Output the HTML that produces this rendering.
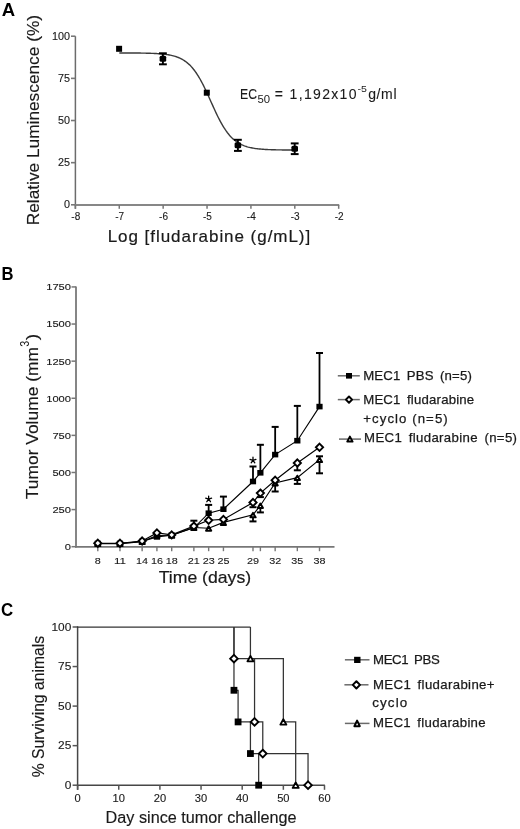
<!DOCTYPE html>
<html><head><meta charset="utf-8"><style>
html,body{margin:0;padding:0;background:#fff;}
svg{display:block;filter:grayscale(1);}
text{font-family:"Liberation Sans",sans-serif;}
</style></head><body>
<svg width="520" height="829" viewBox="0 0 520 829">
<rect width="520" height="829" fill="#fff"/>
<text x="1.7" y="15.5" font-size="19" textLength="13.4" lengthAdjust="spacingAndGlyphs" font-weight="bold" fill="#000">A</text>
<line x1="75.40" y1="36.20" x2="75.40" y2="208.80" stroke="#6c6c6c" stroke-width="1.5"/>
<line x1="74.70" y1="205.00" x2="339.20" y2="205.00" stroke="#878787" stroke-width="2.0"/>
<line x1="71.00" y1="36.22" x2="75.40" y2="36.22" stroke="#777" stroke-width="1.6"/>
<text x="69.9" y="39.82" font-size="10" text-anchor="end" textLength="18.0" lengthAdjust="spacingAndGlyphs" fill="#1a1a1a" stroke="#1a1a1a" stroke-width="0.12">100</text>
<line x1="71.00" y1="78.37" x2="75.40" y2="78.37" stroke="#777" stroke-width="1.6"/>
<text x="69.9" y="81.97" font-size="10" text-anchor="end" textLength="12.0" lengthAdjust="spacingAndGlyphs" fill="#1a1a1a" stroke="#1a1a1a" stroke-width="0.12">75</text>
<line x1="71.00" y1="120.51" x2="75.40" y2="120.51" stroke="#777" stroke-width="1.6"/>
<text x="69.9" y="124.11" font-size="10" text-anchor="end" textLength="12.0" lengthAdjust="spacingAndGlyphs" fill="#1a1a1a" stroke="#1a1a1a" stroke-width="0.12">50</text>
<line x1="71.00" y1="162.66" x2="75.40" y2="162.66" stroke="#777" stroke-width="1.6"/>
<text x="69.9" y="166.26" font-size="10" text-anchor="end" textLength="12.0" lengthAdjust="spacingAndGlyphs" fill="#1a1a1a" stroke="#1a1a1a" stroke-width="0.12">25</text>
<line x1="71.00" y1="204.80" x2="75.40" y2="204.80" stroke="#777" stroke-width="1.6"/>
<text x="69.9" y="208.4" font-size="10" text-anchor="end" textLength="6.0" lengthAdjust="spacingAndGlyphs" fill="#1a1a1a" stroke="#1a1a1a" stroke-width="0.12">0</text>
<line x1="75.40" y1="205.00" x2="75.40" y2="208.80" stroke="#777" stroke-width="1.5"/>
<text x="75.8" y="219.9" font-size="10" text-anchor="middle" fill="#1a1a1a" stroke="#1a1a1a" stroke-width="0.12">-8</text>
<line x1="119.28" y1="205.00" x2="119.28" y2="208.80" stroke="#777" stroke-width="1.5"/>
<text x="119.68" y="219.9" font-size="10" text-anchor="middle" fill="#1a1a1a" stroke="#1a1a1a" stroke-width="0.12">-7</text>
<line x1="163.16" y1="205.00" x2="163.16" y2="208.80" stroke="#777" stroke-width="1.5"/>
<text x="163.56" y="219.9" font-size="10" text-anchor="middle" fill="#1a1a1a" stroke="#1a1a1a" stroke-width="0.12">-6</text>
<line x1="207.04" y1="205.00" x2="207.04" y2="208.80" stroke="#777" stroke-width="1.5"/>
<text x="207.44" y="219.9" font-size="10" text-anchor="middle" fill="#1a1a1a" stroke="#1a1a1a" stroke-width="0.12">-5</text>
<line x1="250.92" y1="205.00" x2="250.92" y2="208.80" stroke="#777" stroke-width="1.5"/>
<text x="251.32" y="219.9" font-size="10" text-anchor="middle" fill="#1a1a1a" stroke="#1a1a1a" stroke-width="0.12">-4</text>
<line x1="294.80" y1="205.00" x2="294.80" y2="208.80" stroke="#777" stroke-width="1.5"/>
<text x="295.2" y="219.9" font-size="10" text-anchor="middle" fill="#1a1a1a" stroke="#1a1a1a" stroke-width="0.12">-3</text>
<line x1="338.68" y1="205.00" x2="338.68" y2="208.80" stroke="#777" stroke-width="1.5"/>
<text x="339.08" y="219.9" font-size="10" text-anchor="middle" fill="#1a1a1a" stroke="#1a1a1a" stroke-width="0.12">-2</text>
<text x="107.7" y="242.1" font-size="17" textLength="202.5" lengthAdjust="spacing" fill="#1a1a1a" stroke="#1a1a1a" stroke-width="0.2">Log [fludarabine (g/mL)]</text>
<text x="38.8" y="225.2" font-size="17" textLength="210.2" lengthAdjust="spacingAndGlyphs" transform="rotate(-90 38.8 225.2)" fill="#1a1a1a" stroke="#1a1a1a" stroke-width="0.15">Relative Luminescence (%)</text>
<polyline points="119.30,52.95 120.30,52.95 121.30,52.96 122.30,52.96 123.30,52.96 124.30,52.96 125.30,52.97 126.30,52.97 127.30,52.97 128.30,52.98 129.30,52.98 130.30,52.99 131.30,52.99 132.30,53.00 133.30,53.01 134.30,53.01 135.30,53.02 136.30,53.03 137.30,53.04 138.30,53.05 139.30,53.06 140.30,53.07 141.30,53.09 142.30,53.10 143.30,53.12 144.30,53.14 145.30,53.16 146.30,53.18 147.30,53.21 148.30,53.23 149.30,53.26 150.30,53.29 151.30,53.33 152.30,53.37 153.30,53.41 154.30,53.45 155.30,53.51 156.30,53.56 157.30,53.62 158.30,53.69 159.30,53.76 160.30,53.84 161.30,53.93 162.30,54.02 163.30,54.12 164.30,54.24 165.30,54.36 166.30,54.50 167.30,54.65 168.30,54.81 169.30,54.99 170.30,55.18 171.30,55.39 172.30,55.62 173.30,55.88 174.30,56.15 175.30,56.45 176.30,56.78 177.30,57.13 178.30,57.52 179.30,57.94 180.30,58.40 181.30,58.89 182.30,59.43 183.30,60.01 184.30,60.64 185.30,61.32 186.30,62.06 187.30,62.85 188.30,63.70 189.30,64.61 190.30,65.59 191.30,66.64 192.30,67.77 193.30,68.96 194.30,70.23 195.30,71.58 196.30,73.01 197.30,74.52 198.30,76.11 199.30,77.77 200.30,79.52 201.30,81.33 202.30,83.22 203.30,85.17 204.30,87.19 205.30,89.26 206.30,91.38 207.30,93.54 208.30,95.73 209.30,97.95 210.30,100.18 211.30,102.42 212.30,104.65 213.30,106.87 214.30,109.07 215.30,111.24 216.30,113.36 217.30,115.44 218.30,117.47 219.30,119.43 220.30,121.33 221.30,123.16 222.30,124.92 223.30,126.60 224.30,128.20 225.30,129.72 226.30,131.16 227.30,132.53 228.30,133.81 229.30,135.02 230.30,136.16 231.30,137.22 232.30,138.22 233.30,139.14 234.30,140.00 235.30,140.81 236.30,141.55 237.30,142.24 238.30,142.88 239.30,143.47 240.30,144.01 241.30,144.52 242.30,144.98 243.30,145.41 244.30,145.80 245.30,146.16 246.30,146.49 247.30,146.80 248.30,147.08 249.30,147.33 250.30,147.57 251.30,147.78 252.30,147.98 253.30,148.16 254.30,148.32 255.30,148.48 256.30,148.61 257.30,148.74 258.30,148.86 259.30,148.96 260.30,149.06 261.30,149.15 262.30,149.23 263.30,149.30 264.30,149.37 265.30,149.43 266.30,149.49 267.30,149.54 268.30,149.58 269.30,149.63 270.30,149.66 271.30,149.70 272.30,149.73 273.30,149.76 274.30,149.79 275.30,149.81 276.30,149.84 277.30,149.86 278.30,149.88 279.30,149.89 280.30,149.91 281.30,149.92 282.30,149.94 283.30,149.95 284.30,149.96 285.30,149.97 286.30,149.98 287.30,149.99 288.30,149.99 289.30,150.00 290.30,150.01 291.30,150.01 292.30,150.02" fill="none" stroke="#3a3a3a" stroke-width="1.4" stroke-linejoin="miter"/>
<rect x="116.10" y="45.80" width="6.0" height="6.0" fill="#000"/>
<line x1="162.90" y1="53.30" x2="162.90" y2="64.30" stroke="#000" stroke-width="1.9"/>
<line x1="159.00" y1="53.30" x2="166.80" y2="53.30" stroke="#000" stroke-width="2.0"/>
<line x1="159.00" y1="64.30" x2="166.80" y2="64.30" stroke="#000" stroke-width="2.0"/>
<rect x="159.60" y="55.80" width="6.6" height="6" rx="1.5" fill="#000"/>
<line x1="237.90" y1="139.80" x2="237.90" y2="150.90" stroke="#000" stroke-width="1.9"/>
<line x1="234.00" y1="139.80" x2="241.80" y2="139.80" stroke="#000" stroke-width="2.0"/>
<line x1="234.00" y1="150.90" x2="241.80" y2="150.90" stroke="#000" stroke-width="2.0"/>
<rect x="234.60" y="142.30" width="6.6" height="6" rx="1.5" fill="#000"/>
<line x1="294.70" y1="143.40" x2="294.70" y2="154.10" stroke="#000" stroke-width="1.9"/>
<line x1="290.80" y1="143.40" x2="298.60" y2="143.40" stroke="#000" stroke-width="2.0"/>
<line x1="290.80" y1="154.10" x2="298.60" y2="154.10" stroke="#000" stroke-width="2.0"/>
<rect x="291.40" y="145.70" width="6.6" height="6" rx="1.5" fill="#000"/>
<rect x="203.80" y="89.70" width="6.0" height="6.0" fill="#000"/>
<text x="240" y="98.9" font-size="14" textLength="17" lengthAdjust="spacingAndGlyphs" fill="#1a1a1a" stroke="#1a1a1a" stroke-width="0.1">EC</text>
<text x="257.4" y="102.5" font-size="10" textLength="12.6" lengthAdjust="spacingAndGlyphs" fill="#1a1a1a">50</text>
<text x="274.8" y="98.9" font-size="14" textLength="81.7" lengthAdjust="spacing" fill="#1a1a1a" stroke="#1a1a1a" stroke-width="0.1">= 1,192x10</text>
<text x="357.6" y="92.4" font-size="9.2" textLength="9.4" lengthAdjust="spacingAndGlyphs" fill="#1a1a1a">-5</text>
<text x="368.2" y="98.9" font-size="14" textLength="28.3" lengthAdjust="spacing" fill="#1a1a1a" stroke="#1a1a1a" stroke-width="0.1">g/ml</text>
<text x="1.6" y="279.7" font-size="18.5" textLength="12" lengthAdjust="spacingAndGlyphs" font-weight="bold" fill="#000">B</text>
<line x1="76.00" y1="286.40" x2="76.00" y2="547.50" stroke="#868686" stroke-width="2.0"/>
<line x1="75.00" y1="546.90" x2="334.50" y2="546.90" stroke="#777" stroke-width="1.7"/>
<line x1="71.50" y1="546.70" x2="76.00" y2="546.70" stroke="#777" stroke-width="1.5"/>
<text x="71.0" y="550.1" font-size="9.6" text-anchor="end" textLength="6.2" lengthAdjust="spacingAndGlyphs" fill="#1a1a1a" stroke="#1a1a1a" stroke-width="0.12">0</text>
<line x1="71.50" y1="509.59" x2="76.00" y2="509.59" stroke="#777" stroke-width="1.5"/>
<text x="71.0" y="512.99" font-size="9.6" text-anchor="end" textLength="18.6" lengthAdjust="spacingAndGlyphs" fill="#1a1a1a" stroke="#1a1a1a" stroke-width="0.12">250</text>
<line x1="71.50" y1="472.48" x2="76.00" y2="472.48" stroke="#777" stroke-width="1.5"/>
<text x="71.0" y="475.88" font-size="9.6" text-anchor="end" textLength="18.6" lengthAdjust="spacingAndGlyphs" fill="#1a1a1a" stroke="#1a1a1a" stroke-width="0.12">500</text>
<line x1="71.50" y1="435.37" x2="76.00" y2="435.37" stroke="#777" stroke-width="1.5"/>
<text x="71.0" y="438.77" font-size="9.6" text-anchor="end" textLength="18.6" lengthAdjust="spacingAndGlyphs" fill="#1a1a1a" stroke="#1a1a1a" stroke-width="0.12">750</text>
<line x1="71.50" y1="398.26" x2="76.00" y2="398.26" stroke="#777" stroke-width="1.5"/>
<text x="71.0" y="401.66" font-size="9.6" text-anchor="end" textLength="24.8" lengthAdjust="spacingAndGlyphs" fill="#1a1a1a" stroke="#1a1a1a" stroke-width="0.12">1000</text>
<line x1="71.50" y1="361.15" x2="76.00" y2="361.15" stroke="#777" stroke-width="1.5"/>
<text x="71.0" y="364.55" font-size="9.6" text-anchor="end" textLength="24.8" lengthAdjust="spacingAndGlyphs" fill="#1a1a1a" stroke="#1a1a1a" stroke-width="0.12">1250</text>
<line x1="71.50" y1="324.04" x2="76.00" y2="324.04" stroke="#777" stroke-width="1.5"/>
<text x="71.0" y="327.44" font-size="9.6" text-anchor="end" textLength="24.8" lengthAdjust="spacingAndGlyphs" fill="#1a1a1a" stroke="#1a1a1a" stroke-width="0.12">1500</text>
<line x1="71.50" y1="286.93" x2="76.00" y2="286.93" stroke="#777" stroke-width="1.5"/>
<text x="71.0" y="290.33" font-size="9.6" text-anchor="end" textLength="24.8" lengthAdjust="spacingAndGlyphs" fill="#1a1a1a" stroke="#1a1a1a" stroke-width="0.12">1750</text>
<line x1="97.80" y1="546.90" x2="97.80" y2="551.20" stroke="#777" stroke-width="1.4"/>
<text x="97.8" y="563.6" font-size="9.9" text-anchor="middle" textLength="6.0" lengthAdjust="spacingAndGlyphs" fill="#1a1a1a" stroke="#1a1a1a" stroke-width="0.12">8</text>
<line x1="119.97" y1="546.90" x2="119.97" y2="551.20" stroke="#777" stroke-width="1.4"/>
<text x="119.97" y="563.6" font-size="9.9" text-anchor="middle" textLength="12.0" lengthAdjust="spacingAndGlyphs" fill="#1a1a1a" stroke="#1a1a1a" stroke-width="0.12">11</text>
<line x1="142.14" y1="546.90" x2="142.14" y2="551.20" stroke="#777" stroke-width="1.4"/>
<text x="142.14" y="563.6" font-size="9.9" text-anchor="middle" textLength="12.0" lengthAdjust="spacingAndGlyphs" fill="#1a1a1a" stroke="#1a1a1a" stroke-width="0.12">14</text>
<line x1="156.92" y1="546.90" x2="156.92" y2="551.20" stroke="#777" stroke-width="1.4"/>
<text x="156.92" y="563.6" font-size="9.9" text-anchor="middle" textLength="12.0" lengthAdjust="spacingAndGlyphs" fill="#1a1a1a" stroke="#1a1a1a" stroke-width="0.12">16</text>
<line x1="171.70" y1="546.90" x2="171.70" y2="551.20" stroke="#777" stroke-width="1.4"/>
<text x="171.7" y="563.6" font-size="9.9" text-anchor="middle" textLength="12.0" lengthAdjust="spacingAndGlyphs" fill="#1a1a1a" stroke="#1a1a1a" stroke-width="0.12">18</text>
<line x1="193.87" y1="546.90" x2="193.87" y2="551.20" stroke="#777" stroke-width="1.4"/>
<text x="193.87" y="563.6" font-size="9.9" text-anchor="middle" textLength="12.0" lengthAdjust="spacingAndGlyphs" fill="#1a1a1a" stroke="#1a1a1a" stroke-width="0.12">21</text>
<line x1="208.65" y1="546.90" x2="208.65" y2="551.20" stroke="#777" stroke-width="1.4"/>
<text x="208.65" y="563.6" font-size="9.9" text-anchor="middle" textLength="12.0" lengthAdjust="spacingAndGlyphs" fill="#1a1a1a" stroke="#1a1a1a" stroke-width="0.12">23</text>
<line x1="223.43" y1="546.90" x2="223.43" y2="551.20" stroke="#777" stroke-width="1.4"/>
<text x="223.43" y="563.6" font-size="9.9" text-anchor="middle" textLength="12.0" lengthAdjust="spacingAndGlyphs" fill="#1a1a1a" stroke="#1a1a1a" stroke-width="0.12">25</text>
<line x1="252.99" y1="546.90" x2="252.99" y2="551.20" stroke="#777" stroke-width="1.4"/>
<text x="252.99" y="563.6" font-size="9.9" text-anchor="middle" textLength="12.0" lengthAdjust="spacingAndGlyphs" fill="#1a1a1a" stroke="#1a1a1a" stroke-width="0.12">29</text>
<line x1="260.38" y1="546.90" x2="260.38" y2="551.20" stroke="#777" stroke-width="1.4"/>
<line x1="275.16" y1="546.90" x2="275.16" y2="551.20" stroke="#777" stroke-width="1.4"/>
<text x="275.16" y="563.6" font-size="9.9" text-anchor="middle" textLength="12.0" lengthAdjust="spacingAndGlyphs" fill="#1a1a1a" stroke="#1a1a1a" stroke-width="0.12">32</text>
<line x1="297.33" y1="546.90" x2="297.33" y2="551.20" stroke="#777" stroke-width="1.4"/>
<text x="297.33" y="563.6" font-size="9.9" text-anchor="middle" textLength="12.0" lengthAdjust="spacingAndGlyphs" fill="#1a1a1a" stroke="#1a1a1a" stroke-width="0.12">35</text>
<line x1="319.50" y1="546.90" x2="319.50" y2="551.20" stroke="#777" stroke-width="1.4"/>
<text x="319.5" y="563.6" font-size="9.9" text-anchor="middle" textLength="12.0" lengthAdjust="spacingAndGlyphs" fill="#1a1a1a" stroke="#1a1a1a" stroke-width="0.12">38</text>
<text x="158.7" y="582.8" font-size="16.6" textLength="92.4" lengthAdjust="spacingAndGlyphs" fill="#1a1a1a" stroke="#1a1a1a" stroke-width="0.2">Time (days)</text>
<text x="37.9" y="499.2" font-size="17" textLength="152.2" lengthAdjust="spacingAndGlyphs" transform="rotate(-90 37.9 499.2)" fill="#1a1a1a" stroke="#1a1a1a" stroke-width="0.15">Tumor Volume (mm</text>
<text x="28.6" y="346.8" font-size="12" textLength="6.0" lengthAdjust="spacingAndGlyphs" transform="rotate(-90 28.6 346.8)" fill="#1a1a1a">3</text>
<text x="37.9" y="340.3" font-size="17" textLength="6.5" lengthAdjust="spacingAndGlyphs" transform="rotate(-90 37.9 340.3)" fill="#1a1a1a" stroke="#1a1a1a" stroke-width="0.15">)</text>
<line x1="193.87" y1="527.80" x2="193.87" y2="520.70" stroke="#000" stroke-width="1.8"/>
<line x1="190.37" y1="520.70" x2="197.37" y2="520.70" stroke="#000" stroke-width="2.0"/>
<line x1="208.65" y1="513.20" x2="208.65" y2="504.90" stroke="#000" stroke-width="1.8"/>
<line x1="205.15" y1="504.90" x2="212.15" y2="504.90" stroke="#000" stroke-width="2.0"/>
<line x1="223.43" y1="509.20" x2="223.43" y2="496.60" stroke="#000" stroke-width="1.8"/>
<line x1="219.93" y1="496.60" x2="226.93" y2="496.60" stroke="#000" stroke-width="2.0"/>
<line x1="252.99" y1="481.50" x2="252.99" y2="466.50" stroke="#000" stroke-width="1.8"/>
<line x1="249.49" y1="466.50" x2="256.49" y2="466.50" stroke="#000" stroke-width="2.0"/>
<line x1="260.38" y1="472.80" x2="260.38" y2="444.80" stroke="#000" stroke-width="1.8"/>
<line x1="256.88" y1="444.80" x2="263.88" y2="444.80" stroke="#000" stroke-width="2.0"/>
<line x1="275.16" y1="454.60" x2="275.16" y2="426.90" stroke="#000" stroke-width="1.8"/>
<line x1="271.66" y1="426.90" x2="278.66" y2="426.90" stroke="#000" stroke-width="2.0"/>
<line x1="297.33" y1="440.70" x2="297.33" y2="405.90" stroke="#000" stroke-width="1.8"/>
<line x1="293.83" y1="405.90" x2="300.83" y2="405.90" stroke="#000" stroke-width="2.0"/>
<line x1="319.50" y1="406.60" x2="319.50" y2="353.00" stroke="#000" stroke-width="1.8"/>
<line x1="316.00" y1="353.00" x2="323.00" y2="353.00" stroke="#000" stroke-width="2.0"/>
<line x1="252.99" y1="502.50" x2="252.99" y2="507.20" stroke="#000" stroke-width="1.8"/>
<line x1="249.49" y1="507.20" x2="256.49" y2="507.20" stroke="#000" stroke-width="2.0"/>
<line x1="260.38" y1="493.10" x2="260.38" y2="497.10" stroke="#000" stroke-width="1.8"/>
<line x1="256.88" y1="497.10" x2="263.88" y2="497.10" stroke="#000" stroke-width="2.0"/>
<line x1="297.33" y1="463.00" x2="297.33" y2="470.30" stroke="#000" stroke-width="1.8"/>
<line x1="293.83" y1="470.30" x2="300.83" y2="470.30" stroke="#000" stroke-width="2.0"/>
<line x1="252.99" y1="514.80" x2="252.99" y2="521.40" stroke="#000" stroke-width="1.8"/>
<line x1="249.49" y1="521.40" x2="256.49" y2="521.40" stroke="#000" stroke-width="2.0"/>
<line x1="260.38" y1="505.50" x2="260.38" y2="512.40" stroke="#000" stroke-width="1.8"/>
<line x1="256.88" y1="512.40" x2="263.88" y2="512.40" stroke="#000" stroke-width="2.0"/>
<line x1="275.16" y1="483.00" x2="275.16" y2="491.50" stroke="#000" stroke-width="1.8"/>
<line x1="271.66" y1="491.50" x2="278.66" y2="491.50" stroke="#000" stroke-width="2.0"/>
<line x1="297.33" y1="477.60" x2="297.33" y2="483.90" stroke="#000" stroke-width="1.8"/>
<line x1="293.83" y1="483.90" x2="300.83" y2="483.90" stroke="#000" stroke-width="2.0"/>
<line x1="319.50" y1="459.60" x2="319.50" y2="473.30" stroke="#000" stroke-width="1.8"/>
<line x1="316.00" y1="473.30" x2="323.00" y2="473.30" stroke="#000" stroke-width="2.0"/>
<line x1="319.50" y1="459.60" x2="319.50" y2="456.30" stroke="#000" stroke-width="1.8"/>
<line x1="316.00" y1="456.30" x2="323.00" y2="456.30" stroke="#000" stroke-width="2.0"/>
<polyline points="97.80,543.60 119.97,543.60 142.14,541.60 156.92,535.50 171.70,535.30 193.87,527.50 208.65,528.20 223.43,522.40 252.99,514.80 260.38,505.50 275.16,483.00 297.33,477.60 319.50,459.60" fill="none" stroke="#000" stroke-width="1.15" stroke-linejoin="miter"/>
<polyline points="97.80,543.50 119.97,543.50 142.14,541.50 156.92,536.90 171.70,535.20 193.87,527.80 208.65,513.20 223.43,509.20 252.99,481.50 260.38,472.80 275.16,454.60 297.33,440.70 319.50,406.60" fill="none" stroke="#000" stroke-width="1.15" stroke-linejoin="miter"/>
<polyline points="97.80,543.20 119.97,543.20 142.14,541.00 156.92,532.90 171.70,534.90 193.87,526.10 208.65,520.30 223.43,519.40 252.99,502.50 260.38,493.10 275.16,480.20 297.33,463.00 319.50,447.30" fill="none" stroke="#000" stroke-width="1.15" stroke-linejoin="miter"/>
<path d="M97.80 541.70L100.40 546.10L95.20 546.10Z" fill="#fff" stroke="#000" stroke-width="2.0" stroke-linejoin="round"/>
<path d="M119.97 541.70L122.57 546.10L117.37 546.10Z" fill="#fff" stroke="#000" stroke-width="2.0" stroke-linejoin="round"/>
<path d="M142.14 539.70L144.74 544.10L139.54 544.10Z" fill="#fff" stroke="#000" stroke-width="2.0" stroke-linejoin="round"/>
<path d="M156.92 533.60L159.52 538.00L154.32 538.00Z" fill="#fff" stroke="#000" stroke-width="2.0" stroke-linejoin="round"/>
<path d="M171.70 533.40L174.30 537.80L169.10 537.80Z" fill="#fff" stroke="#000" stroke-width="2.0" stroke-linejoin="round"/>
<path d="M193.87 525.60L196.47 530.00L191.27 530.00Z" fill="#fff" stroke="#000" stroke-width="2.0" stroke-linejoin="round"/>
<path d="M208.65 526.30L211.25 530.70L206.05 530.70Z" fill="#fff" stroke="#000" stroke-width="2.0" stroke-linejoin="round"/>
<path d="M223.43 520.50L226.03 524.90L220.83 524.90Z" fill="#fff" stroke="#000" stroke-width="2.0" stroke-linejoin="round"/>
<path d="M252.99 512.90L255.59 517.30L250.39 517.30Z" fill="#fff" stroke="#000" stroke-width="2.0" stroke-linejoin="round"/>
<path d="M260.38 503.60L262.98 508.00L257.78 508.00Z" fill="#fff" stroke="#000" stroke-width="2.0" stroke-linejoin="round"/>
<path d="M275.16 481.10L277.76 485.50L272.56 485.50Z" fill="#fff" stroke="#000" stroke-width="2.0" stroke-linejoin="round"/>
<path d="M297.33 475.70L299.93 480.10L294.73 480.10Z" fill="#fff" stroke="#000" stroke-width="2.0" stroke-linejoin="round"/>
<path d="M319.50 457.70L322.10 462.10L316.90 462.10Z" fill="#fff" stroke="#000" stroke-width="2.0" stroke-linejoin="round"/>
<rect x="94.70" y="540.70" width="6.2" height="5.6" fill="#000"/>
<rect x="116.87" y="540.70" width="6.2" height="5.6" fill="#000"/>
<rect x="139.04" y="538.70" width="6.2" height="5.6" fill="#000"/>
<rect x="153.82" y="534.10" width="6.2" height="5.6" fill="#000"/>
<rect x="168.60" y="532.40" width="6.2" height="5.6" fill="#000"/>
<rect x="190.77" y="525.00" width="6.2" height="5.6" fill="#000"/>
<rect x="205.55" y="510.40" width="6.2" height="5.6" fill="#000"/>
<rect x="220.33" y="506.40" width="6.2" height="5.6" fill="#000"/>
<rect x="249.89" y="478.70" width="6.2" height="5.6" fill="#000"/>
<rect x="257.28" y="470.00" width="6.2" height="5.6" fill="#000"/>
<rect x="272.06" y="451.80" width="6.2" height="5.6" fill="#000"/>
<rect x="294.23" y="437.90" width="6.2" height="5.6" fill="#000"/>
<rect x="316.40" y="403.80" width="6.2" height="5.6" fill="#000"/>
<path d="M97.80 539.60L101.40 543.20L97.80 546.80L94.20 543.20Z" fill="#fff" stroke="#000" stroke-width="1.9" stroke-linejoin="miter"/>
<path d="M119.97 539.60L123.57 543.20L119.97 546.80L116.37 543.20Z" fill="#fff" stroke="#000" stroke-width="1.9" stroke-linejoin="miter"/>
<path d="M142.14 537.40L145.74 541.00L142.14 544.60L138.54 541.00Z" fill="#fff" stroke="#000" stroke-width="1.9" stroke-linejoin="miter"/>
<path d="M156.92 529.30L160.52 532.90L156.92 536.50L153.32 532.90Z" fill="#fff" stroke="#000" stroke-width="1.9" stroke-linejoin="miter"/>
<path d="M171.70 531.30L175.30 534.90L171.70 538.50L168.10 534.90Z" fill="#fff" stroke="#000" stroke-width="1.9" stroke-linejoin="miter"/>
<path d="M193.87 522.50L197.47 526.10L193.87 529.70L190.27 526.10Z" fill="#fff" stroke="#000" stroke-width="1.9" stroke-linejoin="miter"/>
<path d="M208.65 516.70L212.25 520.30L208.65 523.90L205.05 520.30Z" fill="#fff" stroke="#000" stroke-width="1.9" stroke-linejoin="miter"/>
<path d="M223.43 515.80L227.03 519.40L223.43 523.00L219.83 519.40Z" fill="#fff" stroke="#000" stroke-width="1.9" stroke-linejoin="miter"/>
<path d="M252.99 498.90L256.59 502.50L252.99 506.10L249.39 502.50Z" fill="#fff" stroke="#000" stroke-width="1.9" stroke-linejoin="miter"/>
<path d="M260.38 489.50L263.98 493.10L260.38 496.70L256.78 493.10Z" fill="#fff" stroke="#000" stroke-width="1.9" stroke-linejoin="miter"/>
<path d="M275.16 476.60L278.76 480.20L275.16 483.80L271.56 480.20Z" fill="#fff" stroke="#000" stroke-width="1.9" stroke-linejoin="miter"/>
<path d="M297.33 459.40L300.93 463.00L297.33 466.60L293.73 463.00Z" fill="#fff" stroke="#000" stroke-width="1.9" stroke-linejoin="miter"/>
<path d="M319.50 443.70L323.10 447.30L319.50 450.90L315.90 447.30Z" fill="#fff" stroke="#000" stroke-width="1.9" stroke-linejoin="miter"/>
<path d="M208.65 499.20L208.65 496.10M208.65 499.20L211.60 498.24M208.65 499.20L210.47 501.71M208.65 499.20L206.83 501.71M208.65 499.20L205.70 498.24" stroke="#000" stroke-width="1.3" stroke-linecap="round" fill="none"/>
<path d="M252.99 460.30L252.99 457.20M252.99 460.30L255.94 459.34M252.99 460.30L254.81 462.81M252.99 460.30L251.17 462.81M252.99 460.30L250.04 459.34" stroke="#000" stroke-width="1.3" stroke-linecap="round" fill="none"/>
<line x1="337.80" y1="375.80" x2="359.80" y2="375.80" stroke="#6a6a6a" stroke-width="1.5"/>
<rect x="346" y="373" width="6" height="5.6" fill="#000"/>
<text x="363.2" y="379.6" font-size="13.2" textLength="108.6" lengthAdjust="spacing" fill="#1a1a1a" word-spacing="2.5" stroke="#1a1a1a" stroke-width="0.25">MEC1 PBS (n=5)</text>
<line x1="337.80" y1="399.60" x2="359.80" y2="399.60" stroke="#6a6a6a" stroke-width="1.5"/>
<path d="M349.00 396.50L352.10 399.60L349.00 402.70L345.90 399.60Z" fill="#fff" stroke="#000" stroke-width="2.0" stroke-linejoin="round"/>
<text x="363.2" y="403.5" font-size="13.2" textLength="111.0" lengthAdjust="spacing" fill="#1a1a1a" word-spacing="2.5" stroke="#1a1a1a" stroke-width="0.25">MEC1 fludarabine</text>
<text x="363.3" y="422.8" font-size="13.2" textLength="84.4" lengthAdjust="spacing" fill="#1a1a1a" stroke="#1a1a1a" stroke-width="0.25">+cyclo (n=5)</text>
<line x1="339.00" y1="439.10" x2="361.00" y2="439.10" stroke="#6a6a6a" stroke-width="1.5"/>
<path d="M349.90 436.60L352.55 441.60L347.25 441.60Z" fill="#fff" stroke="#000" stroke-width="2.0" stroke-linejoin="round"/>
<text x="364.1" y="442.4" font-size="13.2" textLength="152.9" lengthAdjust="spacing" fill="#1a1a1a" word-spacing="2.5" stroke="#1a1a1a" stroke-width="0.25">MEC1 fludarabine (n=5)</text>
<text x="1.0" y="616.4" font-size="18.5" textLength="12.2" lengthAdjust="spacingAndGlyphs" font-weight="bold" fill="#000">C</text>
<line x1="77.60" y1="626.40" x2="77.60" y2="789.80" stroke="#474747" stroke-width="1.5"/>
<line x1="76.90" y1="785.20" x2="324.90" y2="785.20" stroke="#474747" stroke-width="1.6"/>
<line x1="72.60" y1="627.00" x2="77.60" y2="627.00" stroke="#555" stroke-width="1.5"/>
<text x="71.3" y="630.6" font-size="10.5" text-anchor="end" textLength="19.8" lengthAdjust="spacingAndGlyphs" fill="#1a1a1a" stroke="#1a1a1a" stroke-width="0.12">100</text>
<line x1="72.60" y1="666.55" x2="77.60" y2="666.55" stroke="#555" stroke-width="1.5"/>
<text x="71.3" y="670.15" font-size="10.5" text-anchor="end" textLength="13.2" lengthAdjust="spacingAndGlyphs" fill="#1a1a1a" stroke="#1a1a1a" stroke-width="0.12">75</text>
<line x1="72.60" y1="706.10" x2="77.60" y2="706.10" stroke="#555" stroke-width="1.5"/>
<text x="71.3" y="709.7" font-size="10.5" text-anchor="end" textLength="13.2" lengthAdjust="spacingAndGlyphs" fill="#1a1a1a" stroke="#1a1a1a" stroke-width="0.12">50</text>
<line x1="72.60" y1="745.65" x2="77.60" y2="745.65" stroke="#555" stroke-width="1.5"/>
<text x="71.3" y="749.25" font-size="10.5" text-anchor="end" textLength="13.2" lengthAdjust="spacingAndGlyphs" fill="#1a1a1a" stroke="#1a1a1a" stroke-width="0.12">25</text>
<line x1="72.60" y1="785.20" x2="77.60" y2="785.20" stroke="#555" stroke-width="1.5"/>
<text x="71.3" y="788.8" font-size="10.5" text-anchor="end" textLength="6.6" lengthAdjust="spacingAndGlyphs" fill="#1a1a1a" stroke="#1a1a1a" stroke-width="0.12">0</text>
<line x1="77.60" y1="785.20" x2="77.60" y2="789.80" stroke="#555" stroke-width="1.5"/>
<text x="77.6" y="801.8" font-size="10.5" text-anchor="middle" textLength="6.2" lengthAdjust="spacingAndGlyphs" fill="#1a1a1a" stroke="#1a1a1a" stroke-width="0.12">0</text>
<line x1="118.75" y1="785.20" x2="118.75" y2="789.80" stroke="#555" stroke-width="1.5"/>
<text x="118.75" y="801.8" font-size="10.5" text-anchor="middle" textLength="12.4" lengthAdjust="spacingAndGlyphs" fill="#1a1a1a" stroke="#1a1a1a" stroke-width="0.12">10</text>
<line x1="159.90" y1="785.20" x2="159.90" y2="789.80" stroke="#555" stroke-width="1.5"/>
<text x="159.9" y="801.8" font-size="10.5" text-anchor="middle" textLength="12.4" lengthAdjust="spacingAndGlyphs" fill="#1a1a1a" stroke="#1a1a1a" stroke-width="0.12">20</text>
<line x1="201.05" y1="785.20" x2="201.05" y2="789.80" stroke="#555" stroke-width="1.5"/>
<text x="201.05" y="801.8" font-size="10.5" text-anchor="middle" textLength="12.4" lengthAdjust="spacingAndGlyphs" fill="#1a1a1a" stroke="#1a1a1a" stroke-width="0.12">30</text>
<line x1="242.20" y1="785.20" x2="242.20" y2="789.80" stroke="#555" stroke-width="1.5"/>
<text x="242.2" y="801.8" font-size="10.5" text-anchor="middle" textLength="12.4" lengthAdjust="spacingAndGlyphs" fill="#1a1a1a" stroke="#1a1a1a" stroke-width="0.12">40</text>
<line x1="283.35" y1="785.20" x2="283.35" y2="789.80" stroke="#555" stroke-width="1.5"/>
<text x="283.35" y="801.8" font-size="10.5" text-anchor="middle" textLength="12.4" lengthAdjust="spacingAndGlyphs" fill="#1a1a1a" stroke="#1a1a1a" stroke-width="0.12">50</text>
<line x1="324.50" y1="785.20" x2="324.50" y2="789.80" stroke="#555" stroke-width="1.5"/>
<text x="324.5" y="801.8" font-size="10.5" text-anchor="middle" textLength="12.4" lengthAdjust="spacingAndGlyphs" fill="#1a1a1a" stroke="#1a1a1a" stroke-width="0.12">60</text>
<text x="105.6" y="822.9" font-size="16" textLength="191.0" lengthAdjust="spacingAndGlyphs" fill="#1a1a1a" stroke="#1a1a1a" stroke-width="0.15">Day since tumor challenge</text>
<text x="43.8" y="777.2" font-size="16.5" textLength="141.2" lengthAdjust="spacingAndGlyphs" transform="rotate(-90 43.8 777.2)" fill="#1a1a1a" stroke="#1a1a1a" stroke-width="0.15">% Surviving animals</text>
<line x1="77.00" y1="627.00" x2="250.43" y2="627.00" stroke="#333" stroke-width="1.25"/>
<polyline points="250.43,627.00 250.43,627.00 250.43,658.64 283.35,658.64 283.35,721.92 295.69,721.92 295.69,785.20" fill="none" stroke="#333" stroke-width="1.25" stroke-linejoin="miter"/>
<polyline points="233.97,627.00 233.97,627.00 233.97,658.64 254.55,658.64 254.55,721.92 262.77,721.92 262.77,753.56 308.04,753.56 308.04,785.20" fill="none" stroke="#333" stroke-width="1.25" stroke-linejoin="miter"/>
<polyline points="233.97,627.00 233.97,627.00 233.97,690.28 238.09,690.28 238.09,721.92 250.43,721.92 250.43,753.56 258.66,753.56 258.66,785.20" fill="none" stroke="#333" stroke-width="1.25" stroke-linejoin="miter"/>
<path d="M250.43 655.94L253.43 661.34L247.43 661.34Z" fill="#fff" stroke="#000" stroke-width="1.9" stroke-linejoin="round"/>
<path d="M283.35 719.22L286.35 724.62L280.35 724.62Z" fill="#fff" stroke="#000" stroke-width="1.9" stroke-linejoin="round"/>
<path d="M295.69 782.50L298.69 787.90L292.69 787.90Z" fill="#fff" stroke="#000" stroke-width="1.9" stroke-linejoin="round"/>
<rect x="230.57" y="686.88" width="6.8" height="6.8" fill="#000"/>
<rect x="234.69" y="718.52" width="6.8" height="6.8" fill="#000"/>
<rect x="247.03" y="750.16" width="6.8" height="6.8" fill="#000"/>
<rect x="255.26" y="781.80" width="6.8" height="6.8" fill="#000"/>
<path d="M233.97 654.84L237.77 658.64L233.97 662.44L230.17 658.64Z" fill="#fff" stroke="#000" stroke-width="1.9" stroke-linejoin="miter"/>
<path d="M254.55 718.12L258.35 721.92L254.55 725.72L250.75 721.92Z" fill="#fff" stroke="#000" stroke-width="1.9" stroke-linejoin="miter"/>
<path d="M262.77 749.76L266.57 753.56L262.77 757.36L258.97 753.56Z" fill="#fff" stroke="#000" stroke-width="1.9" stroke-linejoin="miter"/>
<path d="M308.04 781.40L311.84 785.20L308.04 789.00L304.24 785.20Z" fill="#fff" stroke="#000" stroke-width="1.9" stroke-linejoin="miter"/>
<line x1="344.90" y1="659.80" x2="369.50" y2="659.80" stroke="#6a6a6a" stroke-width="1.5"/>
<rect x="354.1" y="656.8" width="6.4" height="6.2" fill="#000"/>
<text x="373.0" y="664.3" font-size="13.2" textLength="66.7" lengthAdjust="spacing" fill="#1a1a1a" word-spacing="2.5" stroke="#1a1a1a" stroke-width="0.25">MEC1 PBS</text>
<line x1="344.40" y1="684.80" x2="368.50" y2="684.80" stroke="#6a6a6a" stroke-width="1.5"/>
<path d="M356.40 681.30L360.00 684.90L356.40 688.50L352.80 684.90Z" fill="#fff" stroke="#000" stroke-width="2.0" stroke-linejoin="round"/>
<text x="373.0" y="689.1" font-size="13.2" textLength="121.5" lengthAdjust="spacing" fill="#1a1a1a" word-spacing="2.5" stroke="#1a1a1a" stroke-width="0.25">MEC1 fludarabine+</text>
<text x="372.2" y="706.9" font-size="13.4" textLength="35.0" lengthAdjust="spacing" fill="#1a1a1a" stroke="#1a1a1a" stroke-width="0.25">cyclo</text>
<line x1="344.90" y1="723.40" x2="369.50" y2="723.40" stroke="#6a6a6a" stroke-width="1.5"/>
<path d="M357.10 720.60L359.80 726.20L354.40 726.20Z" fill="#fff" stroke="#000" stroke-width="2.0" stroke-linejoin="round"/>
<text x="373.0" y="726.9" font-size="13.2" textLength="112.6" lengthAdjust="spacing" fill="#1a1a1a" word-spacing="2.5" stroke="#1a1a1a" stroke-width="0.25">MEC1 fludarabine</text>
</svg>
</body></html>
